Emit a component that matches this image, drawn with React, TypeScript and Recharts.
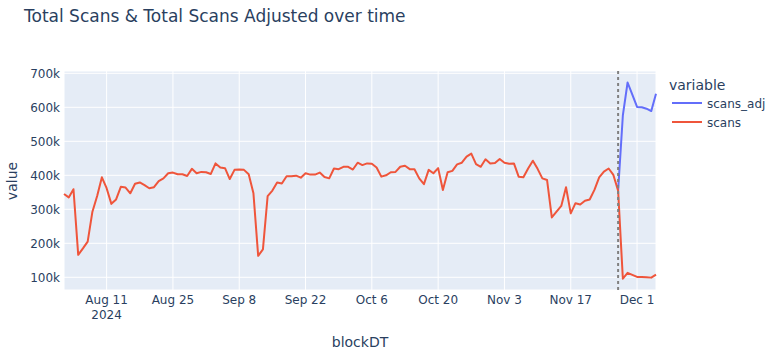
import { LineChart, Line, XAxis, YAxis, CartesianGrid, ReferenceLine } from "recharts";

// daily totals, in thousands, from Aug 2 2024 to Dec 5 2024
const START_DATE = "2024-08-02";
const scans = [
  345, 335, 359, 166, 185, 205, 293, 339, 394, 362, 316, 329, 366, 364, 347,
  375, 379, 371, 362, 365, 383, 391, 406, 408, 403, 403, 398, 419, 406, 410,
  409, 404, 435, 423, 421, 389, 416, 417, 416, 403, 347, 163, 182, 339, 355,
  379, 376, 397, 397, 399, 393, 406, 402, 402, 408, 395, 391, 420, 418, 425,
  425, 417, 437, 430, 435, 434, 423, 396, 400, 409, 410, 425, 428, 418, 418,
  391, 374, 416, 406, 421, 357, 409, 413, 432, 437, 455, 464, 433, 425, 447,
  435, 436, 448, 437, 434, 435, 396, 394, 420, 443, 419, 391, 386, 276, 293,
  310, 365, 288, 318, 314, 325, 329, 357, 394, 411, 420, 401, 355, 96, 113,
  107, 101, 101, 100, 99, 108,
];

// adjusted series starts where the vline is
const ADJ_START = "2024-11-27";
const scansAdj = [355, 576, 673, 637, 601, 600, 596, 589, 640];

const xTickDates = [
  "2024-08-11", "2024-08-25", "2024-09-08", "2024-09-22", "2024-10-06",
  "2024-10-20", "2024-11-03", "2024-11-17", "2024-12-01",
];
const xTickLabels = [
  "Aug 11", "Aug 25", "Sep 8", "Sep 22", "Oct 6", "Oct 20", "Nov 3", "Nov 17", "Dec 1",
];
const yTicks = [100000, 200000, 300000, 400000, 500000, 600000, 700000];
const yTickLabels = ["100k", "200k", "300k", "400k", "500k", "600k", "700k"];
const VLINE_DATE = "2024-11-27";

const DAY = 86400000;
const FONT = '"DejaVu Sans", Verdana, sans-serif';
const TEXT = "#2a3f5f";

const toMs = (d: string) => new Date(d).getTime();

const start = toMs(START_DATE);
const adjStartIdx = Math.round((toMs(ADJ_START) - start) / DAY);

const data = scans.map((v, i) => {
  const j = i - adjStartIdx;
  return {
    t: start + i * DAY,
    scans: v * 1000,
    scans_adj: j >= 0 && j < scansAdj.length ? scansAdj[j] * 1000 : null,
  };
});

const xTicks = xTickDates.map(toMs);

function XTick(props: any) {
  const { x, y, payload } = props;
  const idx = xTicks.indexOf(payload.value);
  return (
    <text x={x} y={y} textAnchor="middle" fill={TEXT} fontSize={12} fontFamily={FONT}>
      <tspan x={x} dy={14}>{xTickLabels[idx]}</tspan>
      {idx === 0 && (
        <tspan x={x} dy={15}>2024</tspan>
      )}
    </text>
  );
}

export default function App() {
  return (
    <div style={{ position: "absolute", left: 0, top: 0, width: 770, height: 360, background: "#fff" }}>
      <LineChart
        width={770}
        height={360}
        data={data}
        margin={{ top: 71, right: 114, bottom: 30, left: 0 }}
      >
        <CartesianGrid fill="#E5ECF6" stroke="#fff" strokeWidth={1} />
        <XAxis
          dataKey="t"
          type="number"
          domain={[start, start + (scans.length - 1) * DAY]}
          ticks={xTicks}
          tick={<XTick />}
          axisLine={false}
          tickLine={false}
          tickSize={0}
          tickMargin={0}
          height={40}
          interval={0}
        />
        <YAxis
          type="number"
          domain={[62600, 706800]}
          allowDataOverflow
          ticks={yTicks}
          tickFormatter={(v: number) => yTickLabels[yTicks.indexOf(v)] ?? ""}
          tick={{ fill: TEXT, fontSize: 12, fontFamily: FONT }}
          axisLine={false}
          tickLine={false}
          tickSize={0}
          tickMargin={4}
          width={64}
          interval={0}
        />
        <Line
          dataKey="scans_adj"
          stroke="#636efa"
          strokeWidth={2}
          dot={false}
          strokeLinejoin="round"
          isAnimationActive={false}
        />
        <Line
          dataKey="scans"
          stroke="#EF553B"
          strokeWidth={2}
          dot={false}
          strokeLinejoin="round"
          isAnimationActive={false}
        />
        <ReferenceLine x={toMs(VLINE_DATE)} stroke="grey" strokeWidth={2} strokeDasharray="3 3" />
      </LineChart>

      {/* titles and legend, drawn over the chart */}
      <svg
        width={770}
        height={360}
        style={{ position: "absolute", left: 0, top: 0, pointerEvents: "none" }}
        fontFamily={FONT}
        fill={TEXT}
      >
        <text x={24} y={21.5} fontSize={17}>
          Total Scans &amp; Total Scans Adjusted over time
        </text>
        <text x={360} y={347} fontSize={14} textAnchor="middle">
          blockDT
        </text>
        <text transform="translate(16.5,181) rotate(-90)" fontSize={14} textAnchor="middle">
          value
        </text>
        <text x={669} y={89.5} fontSize={14}>
          variable
        </text>
        <line x1={672} x2={702} y1={103} y2={103} stroke="#636efa" strokeWidth={2} />
        <text x={707} y={107.5} fontSize={12}>
          scans_adj
        </text>
        <line x1={672} x2={702} y1={122} y2={122} stroke="#EF553B" strokeWidth={2} />
        <text x={707} y={126.5} fontSize={12}>
          scans
        </text>
      </svg>
    </div>
  );
}
